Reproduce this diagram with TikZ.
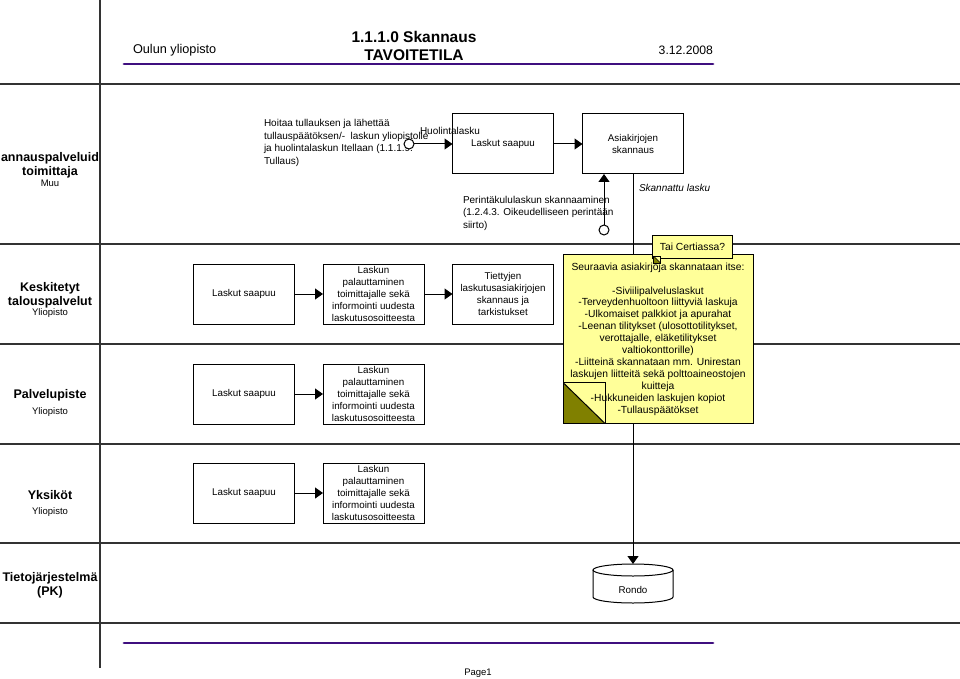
\documentclass[tikz,border=0pt]{standalone}
\usepackage{fontspec}
\setmainfont{Liberation Sans}
\usetikzlibrary{arrows.meta}
\definecolor{notey}{HTML}{FFFF99}
\definecolor{folddark}{HTML}{808000}
\definecolor{hdrpurple}{HTML}{3F0F7F}
\begin{document}
\begin{tikzpicture}[x=1pt,y=-1pt,
  every node/.style={inner sep=0pt, outer sep=0pt},
  lane/.style={draw=black!80, line width=1.2pt},
  hdr/.style={draw=hdrpurple, line width=2.8pt, line cap=round},
  lanelbl/.style={align=center, font=\fontsize{12.5}{14}\selectfont\bfseries},
  lanesub/.style={font=\fontsize{9.5}{11}\selectfont},
  proc/.style={draw, line width=1pt, fill=white, minimum width=101pt, minimum height=60pt, align=center, font=\fontsize{9.8}{12.2}\selectfont},
  txt/.style={align=left, anchor=west, font=\fontsize{10}{12.5}\selectfont},
  arr/.style={line width=1pt, -{Triangle[length=8pt,width=11pt]}},
  startc/.style={circle, draw, line width=1pt, minimum size=10pt, fill=white},
  notebox/.style={draw, line width=1pt, fill=notey, align=center, font=\fontsize{10.3}{11.9}\selectfont},
]
\useasboundingbox (0,0) rectangle (960,679);

% lanes
\draw[lane] (0,84) -- (960,84);
\draw[lane] (0,244) -- (960,244);
\draw[lane] (0,344) -- (960,344);
\draw[lane] (0,444) -- (960,444);
\draw[lane] (0,543) -- (960,543);
\draw[lane] (0,623) -- (960,623);
\draw[lane] (100,0) -- (100,668);

% header / footer
\draw[hdr] (124,64) -- (713,64);
\draw[hdr] (124,643) -- (713,643);
\node[anchor=west, font=\fontsize{12.7}{14}\selectfont] (org) at (133,50) {Oulun yliopisto};
\node[align=center, font=\fontsize{15.5}{18}\selectfont\bfseries] (title) at (414,46) {1.1.1.0 Skannaus\\TAVOITETILA};
\node[anchor=east, font=\fontsize{12.2}{14}\selectfont] (date) at (713,50) {3.12.2008};
\node[font=\fontsize{9.5}{11}\selectfont] (page) at (478,673) {Page1};

% lane labels
\node[lanelbl] (l1) at (50,165) {annauspalveluid\\toimittaja};
\node[lanesub] (l1s) at (50,183) {Muu};
\node[lanelbl] (l2) at (50,295) {Keskitetyt\\talouspalvelut};
\node[lanesub] (l2s) at (50,313) {Yliopisto};
\node[lanelbl] (l3) at (50,395) {Palvelupiste};
\node[lanesub] (l3s) at (50,412) {Yliopisto};
\node[lanelbl] (l4) at (50,495) {Yksiköt};
\node[lanesub] (l4s) at (50,512) {Yliopisto};
\node[lanelbl] (l5) at (50,585) {Tietojärjestelmä\\(PK)};

% top lane
\node[proc] (tl) at (503,144) {Laskut saapuu};
\node[proc] (ask) at (633,144) {Asiakirjojen\\skannaus};
\node[txt] (hoitaa) at (264,143) {Hoitaa tullauksen ja lähettää\\tullauspäätöksen/-\ \ laskun yliopistolle\\ja huolintalaskun Itellaan (1.1.1.9.\\Tullaus)};
\node[startc] (c1) at (409,144) {};
\node[anchor=west, font=\fontsize{10}{11}\selectfont] (huol) at (420,131) {Huolintalasku};
\draw[arr] (c1) -- (tl);
\draw[arr] (tl) -- (ask);
\node[txt] (perinta) at (463,213) {Perintäkululaskun skannaaminen\\(1.2.4.3. Oikeudelliseen perintään\\siirto)};
\node[startc] (c2) at (604,230) {};
\draw[arr] (c2.north) -- (c2.north |- ask.south);
\node[anchor=west, font=\fontsize{10}{11}\selectfont\itshape] (skl) at (639,188) {Skannattu lasku};

% Rondo
\node[minimum width=80pt, minimum height=39pt] (rondo) at (633,583.5) {};
\draw[line width=1pt, fill=white] (593,570) -- (593,597) arc[start angle=180, end angle=360, x radius=40pt, y radius=6pt] -- (673,570);
\draw[line width=1pt, fill=white] (633,570) ellipse[x radius=40pt, y radius=6pt];
\node[font=\fontsize{9.8}{11}\selectfont] (rondotxt) at (633,590) {Rondo};
\draw[arr] (ask.south) -- (rondo.north);

% Keskitetyt
\node[proc] (k1) at (244,294) {Laskut saapuu};
\node[proc] (k2) at (373.5,294) {Laskun\\palauttaminen\\toimittajalle sekä\\informointi uudesta\\laskutusosoitteesta};
\node[proc] (k3) at (503,294) {Tiettyjen\\laskutusasiakirjojen\\skannaus ja\\tarkistukset};
\draw[arr] (k1) -- (k2);
\draw[arr] (k2) -- (k3);

% Palvelupiste
\node[proc] (p1) at (244,394) {Laskut saapuu};
\node[proc] (p2) at (373.5,394) {Laskun\\palauttaminen\\toimittajalle sekä\\informointi uudesta\\laskutusosoitteesta};
\draw[arr] (p1) -- (p2);

% Yksiköt
\node[proc] (y1) at (244,493) {Laskut saapuu};
\node[proc] (y2) at (373.5,493) {Laskun\\palauttaminen\\toimittajalle sekä\\informointi uudesta\\laskutusosoitteesta};
\draw[arr] (y1) -- (y2);

% notes
\node[notebox, minimum width=190pt, minimum height=169pt,
  path picture={
    \fill[folddark] (path picture bounding box.south west) -- ++(0pt,41pt) -- ++(42pt,-41pt) -- cycle;
    \draw[line width=1pt] (path picture bounding box.south west) rectangle ++(42pt,41pt);
    \draw[line width=1pt] (path picture bounding box.south west) ++(0pt,41pt) -- ++(42pt,-41pt);
  }] (note) at (658,339)
  {Seuraavia asiakirjoja skannataan itse:\\\mbox{}\\-Siviilipalveluslaskut\\-Terveydenhuoltoon liittyviä laskuja\\-Ulkomaiset palkkiot ja apurahat\\-Leenan tilitykset (ulosottotilitykset,\\verottajalle, eläketilitykset\\valtiokonttorille)\\-Liitteinä skannataan mm. Unirestan\\laskujen liitteitä sekä polttoaineostojen\\kuitteja\\-Hukkuneiden laskujen kopiot\\-Tullauspäätökset};
\node[notebox, minimum width=80pt, minimum height=23pt] (tai) at (692.5,246.5) {Tai Certiassa?};
\fill[notey] (653.5,256) rectangle (660.5,263);
\fill[folddark] (653.5,256) -- (653.5,263) -- (660.5,263) -- cycle;
\draw[line width=0.6pt] (653.5,256) rectangle (660.5,263);
\draw[line width=0.6pt] (653.5,256) -- (660.5,263);
\end{tikzpicture}
\end{document}
